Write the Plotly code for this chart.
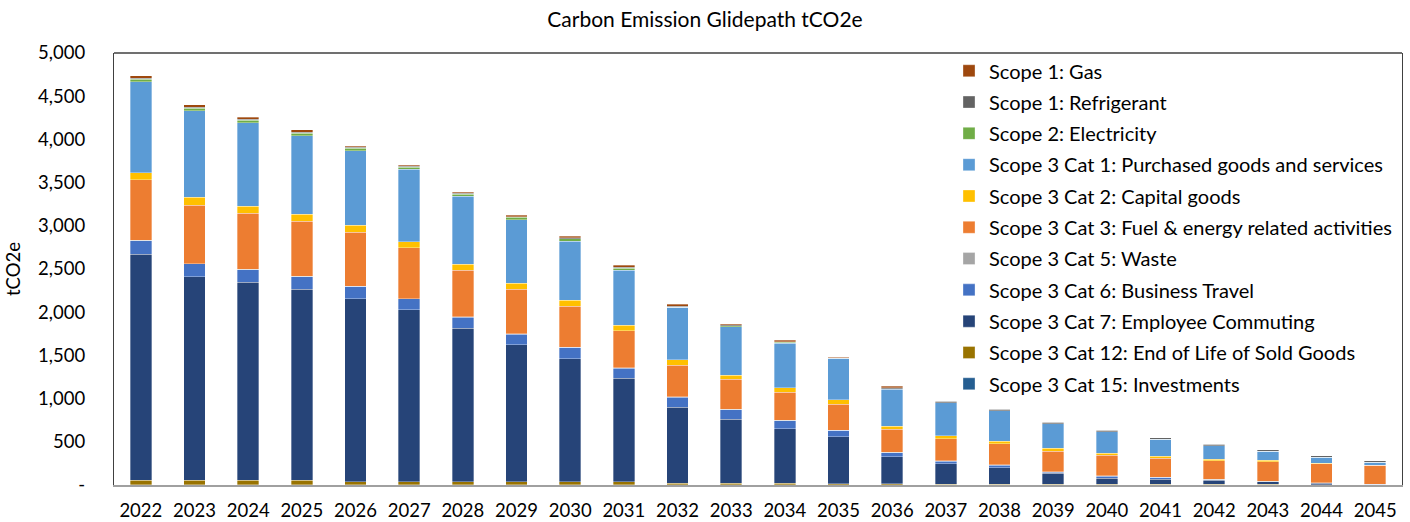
import plotly.graph_objects as go

years = [str(y) for y in range(2022, 2046)]

gas = [31, 28, 20, 30, 12, 12, 12, 14, 18, 20, 20, 15, 15, 8, 18, 0, 0, 0, 0, 0, 0, 0, 0, 0]
refrigerant = [8, 12, 15, 8, 8, 8, 8, 9, 10, 11, 11, 8, 6, 7, 12, 15, 15, 15, 14, 17, 14, 16, 16, 16]
electricity = [31, 30, 31, 30, 30, 27, 27, 27, 26, 23, 0, 12, 10, 0, 5, 0, 0, 0, 0, 0, 0, 0, 0, 0]
cat1_purchased = [1053, 1003, 961, 911, 865, 838, 787, 737, 683, 640, 609, 560, 516, 478, 428, 382, 356, 286, 252, 200, 158, 107, 72, 34]
cat2_capital = [81, 90, 81, 81, 81, 69, 66, 66, 70, 61, 62, 50, 51, 51, 35, 34, 26, 35, 20, 20, 15, 14, 5, 5]
cat3_fuel = [703, 679, 652, 637, 621, 589, 541, 518, 475, 430, 368, 348, 328, 301, 270, 256, 245, 238, 240, 220, 218, 230, 220, 218]
cat5_waste = [3, 3, 3, 3, 3, 3, 3, 3, 3, 3, 3, 3, 3, 3, 3, 3, 3, 3, 3, 3, 3, 2, 2, 2]
cat6_travel = [155, 146, 144, 144, 143, 123, 127, 122, 130, 116, 115, 112, 93, 73, 47, 31, 30, 10, 23, 20, 5, 3, 2, 1]
cat7_commuting = [2616, 2355, 2292, 2211, 2120, 1993, 1780, 1588, 1426, 1201, 881, 738, 630, 543, 311, 235, 189, 127, 71, 62, 51, 30, 18, 3]
cat12_eol = [55, 55, 55, 55, 35, 35, 35, 35, 35, 35, 20, 20, 20, 15, 15, 10, 10, 10, 8, 5, 5, 5, 3, 2]
cat15_invest = [2, 2, 2, 2, 2, 2, 2, 2, 2, 2, 1, 1, 1, 1, 1, 1, 1, 1, 1, 1, 1, 1, 1, 0]

ytick_vals = [0, 500, 1000, 1500, 2000, 2500, 3000, 3500, 4000, 4500, 5000]
ytick_text = ["-", "500", "1,000", "1,500", "2,000", "2,500", "3,000", "3,500", "4,000", "4,500", "5,000"]

# stacking order bottom -> top
series = [
    ("Scope 3 Cat 15: Investments", cat15_invest, "#255E91"),
    ("Scope 3 Cat 12: End of Life of Sold Goods", cat12_eol, "#997300"),
    ("Scope 3 Cat 7: Employee Commuting", cat7_commuting, "#264478"),
    ("Scope 3 Cat 6: Business Travel", cat6_travel, "#4472C4"),
    ("Scope 3 Cat 5: Waste", cat5_waste, "#A5A5A5"),
    ("Scope 3 Cat 3: Fuel & energy related activities", cat3_fuel, "#ED7D31"),
    ("Scope 3 Cat 2: Capital goods", cat2_capital, "#FFC000"),
    ("Scope 3 Cat 1: Purchased goods and services", cat1_purchased, "#5B9BD5"),
    ("Scope 2: Electricity", electricity, "#70AD47"),
    ("Scope 1: Refrigerant", refrigerant, "#636363"),
    ("Scope 1: Gas", gas, "#9E480E"),
]

FONT = "Lato, 'Open Sans', sans-serif"

fig = go.Figure()
n = len(series)
for i, (name, vals, color) in enumerate(series):
    fig.add_trace(go.Bar(
        x=years, y=vals, name=name,
        marker=dict(color=color, line=dict(color="rgba(255,255,255,0.55)", width=0.6)),
        legendgroup=f"g{i}",
        legendrank=1000 + (n - i),
    ))

fig.update_layout(
    width=1410, height=522,
    barmode="stack",
    bargap=0.6,
    plot_bgcolor="white",
    paper_bgcolor="white",
    margin=dict(l=114, r=8, t=53, b=37, pad=0, autoexpand=False),
    font=dict(family=FONT, color="#000000", size=18),
    title=dict(text="Carbon Emission Glidepath tCO2e", x=0.5, xanchor="center",
               y=0.962, yanchor="middle", font=dict(size=21, family=FONT, color="#000000")),
    legend=dict(
        traceorder="grouped",
        x=0.6483, xanchor="left", y=1.004, yanchor="top",
        font=dict(size=20, family=FONT, color="#000000"),
        bgcolor="rgba(0,0,0,0)",
        tracegroupgap=2.3,
        maxheight=480,
    ),
    showlegend=True,
)

fig.update_xaxes(
    showline=True, linecolor="#A0A0A0", linewidth=2, automargin=False,
    showgrid=False, ticks="", ticklabelstandoff=8,
    tickfont=dict(size=18.5, family=FONT, color="#000000"),
)
fig.update_yaxes(
    range=[0, 5000], automargin=False,
    tickvals=ytick_vals, ticktext=ytick_text,
    showline=True, linecolor="#404040", linewidth=1.3, mirror=True,
    showgrid=False, zeroline=False, ticks="", ticklabelstandoff=24,
    tickfont=dict(size=18.5, family=FONT, color="#000000"),
    title=dict(text="tCO2e", font=dict(size=18.5, family=FONT, color="#000000"), standoff=12),
)
fig.add_shape(type="line", xref="paper", yref="paper", x0=0, x1=1, y0=1, y1=1,
              line=dict(color="#404040", width=1.3))

fig.write_html("out.html")
